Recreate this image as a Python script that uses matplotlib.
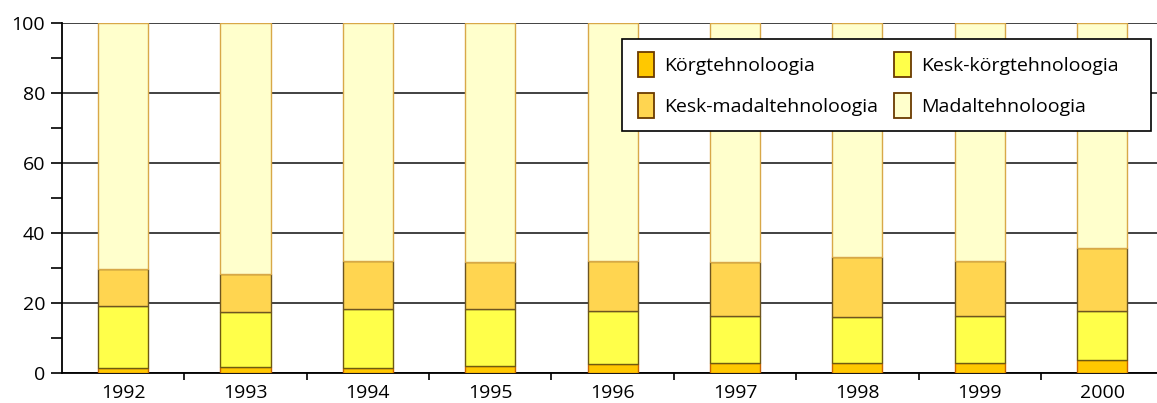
import numpy as np
import matplotlib.pyplot as plt
from matplotlib.patches import Rectangle
from matplotlib.ticker import MultipleLocator, FixedLocator

plt.rcParams['font.family'] = ['Open Sans', 'DejaVu Sans']

# Share of manufacturing by technology level, %
years = ['1992', '1993', '1994', '1995', '1996', '1997', '1998', '1999', '2000']
korg = [1.5, 1.6, 1.5, 2.1, 2.6, 2.9, 2.9, 3.0, 3.7]
kesk_korg_top = [19.2, 17.3, 18.3, 18.3, 17.8, 16.4, 16.1, 16.3, 17.8]
kesk_madal_top = [29.6, 28.3, 32.1, 31.6, 32.1, 31.8, 33.2, 32.1, 35.6]

kesk_korg = [t - k for t, k in zip(kesk_korg_top, korg)]
kesk_madal = [t - k for t, k in zip(kesk_madal_top, kesk_korg_top)]
madal = [100 - t for t in kesk_madal_top]

labels = ['Körgtehnoloogia', 'Kesk-körgtehnoloogia', 'Kesk-madaltehnoloogia', 'Madaltehnoloogia']
colors = ['#ffc800', '#ffff4a', '#ffd550', '#ffffcc']
edges = ['#c86400', '#6e5a10', '#6e5520', '#d8a848']

fig = plt.figure(figsize=(11.57, 4.03), dpi=100)
ax = fig.add_axes([0.0535, 0.0744, 0.952, 0.8685])

x = np.arange(len(years))
series = [korg, kesk_korg, kesk_madal, madal]
bottom = np.zeros(len(years))
handles = []
for vals, c, e, lab in zip(series, colors, edges, labels):
    h = ax.bar(x, vals, bottom=bottom, width=0.41, color=c, edgecolor=e,
               linewidth=1.0, label=lab, zorder=3)
    handles.append(h)
    bottom += np.array(vals)

ax.set_xlim(-0.5, len(years) - 0.5)
ax.set_ylim(0, 100)

ax.yaxis.set_major_locator(MultipleLocator(20))
ax.yaxis.set_minor_locator(MultipleLocator(10))
ax.tick_params(axis='y', which='both', direction='out', length=8, width=1.2,
               labelsize=14, pad=4, color='black')
ax.grid(axis='y', which='major', color='#333333', linewidth=1.3, zorder=0)

ax.set_xticks(x)
ax.set_xticklabels(years)
ax.xaxis.set_minor_locator(FixedLocator(np.arange(0.5, len(years) - 0.5, 1)))
ax.tick_params(axis='x', which='major', length=0, labelsize=14, pad=8)
ax.tick_params(axis='x', which='minor', direction='out', length=5, width=1.2)

for s in ['top', 'right']:
    ax.spines[s].set_visible(False)
ax.spines['left'].set_linewidth(1.3)
ax.spines['bottom'].set_linewidth(1.3)
ax.set_axisbelow(True)

# legend frame: wider on the right than the entries need, as in the reference
frame = Rectangle((0.5083, 0.6923), 0.4801, 0.2611, transform=ax.transAxes,
                  facecolor='white', edgecolor='black', linewidth=1.2,
                  zorder=4, clip_on=False)
ax.add_patch(frame)

# legend is filled row by row in the reference
order = [0, 2, 1, 3]
leg_handles = [handles[i][0] for i in order]
leg_labels = [labels[i] for i in order]
leg = ax.legend(handles=leg_handles, labels=leg_labels, ncol=2, loc='upper left',
                bbox_to_anchor=(0.5227, 0.916), borderaxespad=0, borderpad=0,
                fontsize=14, frameon=False,
                handlelength=0.85, handleheight=1.6, handletextpad=0.5,
                columnspacing=0.85, labelspacing=0.8)
leg.set_zorder(5)
for p in leg.get_patches():
    p.set_edgecolor('#6a3a00')
    p.set_linewidth(1.3)

fig.savefig('out.png', dpi=100)
